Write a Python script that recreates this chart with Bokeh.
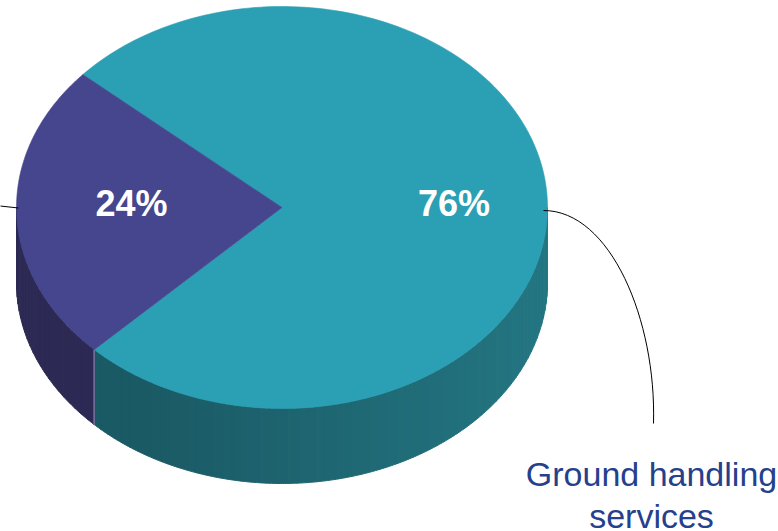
import numpy as np
from bokeh.plotting import figure
from bokeh.models import Range1d
from bokeh.embed import file_html
from bokeh.resources import INLINE
from bokeh.core.properties import value

# Share of each slice (percent) and its label
slice_labels = ["Ground handling\nservices", ""]
percentages = [76, 24]
pct_text = ["76%", "24%"]

# Face and side colours per slice
top_colors = ["#2ba0b4", "#46468e"]
side_dark = [(26, 90, 101), (44, 42, 84)]
side_light = [(35, 118, 130), (44, 42, 84)]

# Layout of the tilted pie (screen pixels, y grows downward)
CX, CY = 281.5, 207.0
RX, RY = 265.5, 201.0
DEPTH = 75.0
START_DEG = 225.0
LABEL_R = [0.648, 0.567]

W, H = 778, 531
p = figure(width=W, height=H, x_range=Range1d(0, W), y_range=Range1d(H, 0),
           toolbar_location=None, output_backend="svg", min_border=0,
           x_axis_location=None, y_axis_location=None,
           background_fill_color="white", border_fill_color="white")
p.grid.visible = False
p.outline_line_color = None


def ell(t_deg, dy=0.0):
    t = np.radians(t_deg)
    return CX + RX * np.cos(t), CY - RY * np.sin(t) + dy


# slice angle ranges (counter-clockwise, parametric degrees)
bounds = []
a = START_DEG
for v in percentages:
    span = 360.0 * v / sum(percentages)
    bounds.append((a, a + span))
    a += span

# side wall: only the front half (180..360 deg) is visible
xs_side, ys_side, col_side = [], [], []
for i, (a0, a1) in enumerate(bounds):
    for k in (-360, 0, 360):
        lo = max(a0 + k, 180.0)
        hi = min(a1 + k, 360.0)
        if hi <= lo:
            continue
        n = max(1, int((hi - lo) / 2.0))
        edges = np.linspace(lo, hi, n + 1)
        for j in range(n):
            t = np.linspace(edges[j], edges[j + 1], 6)
            x_top, y_top = ell(t)
            x_bot, y_bot = ell(t[::-1], DEPTH)
            xs_side.append(list(x_top) + list(x_bot))
            ys_side.append(list(y_top) + list(y_bot))
            xm = ell((edges[j] + edges[j + 1]) / 2)[0]
            f = np.clip((xm - (CX - RX)) / (2 * RX), 0, 1)
            f = np.clip((f - 0.25) / 0.75, 0, 1)
            c = tuple(int(round(side_dark[i][m] + (side_light[i][m] - side_dark[i][m]) * f)) for m in range(3))
            col_side.append("#%02x%02x%02x" % c)

p.patches(xs_side, ys_side, fill_color=col_side, line_color=col_side, line_width=1)

# thin highlight on the side seam between the slices
for a0, a1 in bounds:
    for ang in (a0, a1):
        ang = ang % 360
        if 180 < ang < 360:
            x0, y0 = ell(ang)
            x1, y1 = ell(ang, DEPTH)
            p.segment(x0, y0, x1, y1, line_color="#6f6c98", line_width=1.5)

# top face wedges
xs_top, ys_top = [], []
for a0, a1 in bounds:
    t = np.linspace(a0, a1, 200)
    x, y = ell(t)
    xs_top.append([CX] + list(x))
    ys_top.append([CY] + list(y))
p.patches(xs_top, ys_top, fill_color=top_colors, line_color=top_colors, line_width=0.6)

# percentage labels, placed along each slice's mid-angle on the centre line
lx, ly = [], []
for (a0, a1), fr in zip(bounds, LABEL_R):
    mid = np.radians((a0 + a1) / 2)
    lx.append(CX + fr * RX * np.cos(mid))
    ly.append(CY - 4)
p.text(lx, ly, text=pct_text, text_color="white", text_font=value("Liberation Sans"),
       text_font_style="bold", text_font_size="36px", text_align="center",
       text_baseline="middle")

# leader lines
p.segment(-5, 205, 18, 207.5, line_color="black", line_width=1)
p.bezier(x0=543, y0=210, x1=653, y1=423, cx0=610, cy0=210, cx1=656, cy1=320,
         line_color="black", line_width=1)

# category label
lines = slice_labels[0].split("\n")
p.text([651] * len(lines), [473 + 42 * k for k in range(len(lines))], text=lines,
       text_color="#25408c", text_font=value("Liberation Sans"),
       text_font_size="34px", text_align="center", text_baseline="middle")

open("out.html", "w").write(file_html(p, INLINE))
